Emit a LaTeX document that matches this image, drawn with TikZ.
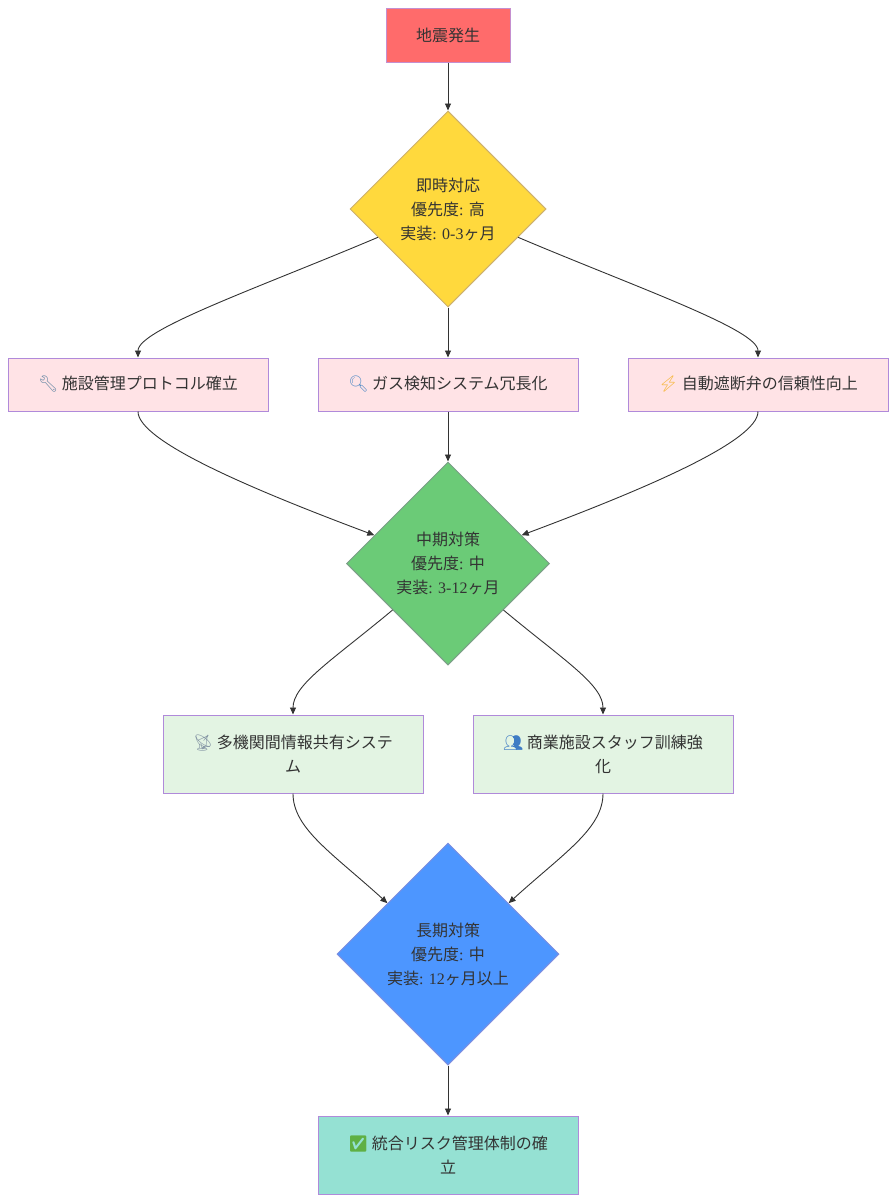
\documentclass[tikz,border=0pt]{standalone}
\usepackage{fontspec}
\setmainfont{Liberation Serif}
\newfontfamily\jp{Noto Sans CJK JP}
\newfontfamily\emo{Noto Emoji}
\usepackage{xcolor}
\usepackage{tikz}
\usetikzlibrary{arrows.meta}
\usetikzlibrary{shapes.geometric}
\definecolor{txt}{HTML}{333333}
\definecolor{edgec}{HTML}{333333}
\definecolor{redf}{HTML}{FF6B6B}
\definecolor{reds}{HTML}{C48FCF}
\definecolor{yelf}{HTML}{FFD93D}
\definecolor{yels}{HTML}{CDB06E}
\definecolor{pinkf}{HTML}{FFE3E6}
\definecolor{lavs}{HTML}{B08ADA}
\definecolor{grnf}{HTML}{6BCB77}
\definecolor{grns}{HTML}{7C9E88}
\definecolor{mintf}{HTML}{E3F4E3}
\definecolor{bluf}{HTML}{4D96FF}
\definecolor{blus}{HTML}{7E8EE0}
\definecolor{tealf}{HTML}{95E1D3}
\definecolor{wrenchc}{HTML}{6B8BA6}
\definecolor{lensc}{HTML}{5A8FC7}
\definecolor{boltc}{HTML}{F6B430}
\definecolor{dishc}{HTML}{8A9BA8}
\definecolor{peoplec}{HTML}{3E7CC4}
\definecolor{checkc}{HTML}{5FB044}
\newcommand\emj[2]{{\emo\color{#1}#2}}
\tikzstyle{box}=[rectangle,draw,line width=1pt,minimum width=260pt,minimum height=53pt,inner sep=0pt,align=center,text=txt,font=\jp\fontsize{16pt}{24pt}\selectfont]
\tikzstyle{tallbox}=[box,minimum height=78pt]
\tikzstyle{dia}=[diamond,draw,line width=1pt,inner sep=0pt,align=center,text=txt,font=\fontsize{16pt}{24pt}\selectfont]
\tikzstyle{ed}=[line width=.9pt,draw=edgec,-{Triangle[length=7pt,width=6pt]}]

\begin{document}
\begin{tikzpicture}[x=1pt,y=1pt]
	\useasboundingbox (0,0) rectangle (896,-1202);
	\node[box,fill=redf,draw=reds,minimum width=124pt,minimum height=54pt] (start) at (448,-35) {地震発生};
	\node[dia,fill=yelf,draw=yels,minimum width=196pt,minimum height=196pt] (immed) at (448,-209) {{\jp 即時対応}\\{\jp 優先度}: {\jp 高}\\{\jp 実装}: 0-3{\jp ヶ月}};
	\node[box,fill=pinkf,draw=lavs] (prot) at (138,-384.5) {\emj{wrenchc}{🔧} 施設管理プロトコル確立};
	\node[box,fill=pinkf,draw=lavs] (gas) at (448,-384.5) {\emj{lensc}{🔍} ガス検知システム冗長化};
	\node[box,fill=pinkf,draw=lavs] (valve) at (758,-384.5) {\emj{boltc}{⚡} 自動遮断弁の信頼性向上};
	\node[dia,fill=grnf,draw=grns,minimum width=203pt,minimum height=203pt] (mid) at (448,-563.5) {{\jp 中期対策}\\{\jp 優先度}: {\jp 中}\\{\jp 実装}: 3-12{\jp ヶ月}};
	\node[tallbox,fill=mintf,draw=lavs] (share) at (293,-754) {\emj{dishc}{📡} 多機関間情報共有システ\\ム};
	\node[tallbox,fill=mintf,draw=lavs] (train) at (603,-754) {\emj{peoplec}{👥} 商業施設スタッフ訓練強\\化};
	\node[dia,fill=bluf,draw=blus,minimum width=222pt,minimum height=222pt] (long) at (448,-954) {{\jp 長期対策}\\{\jp 優先度}: {\jp 中}\\{\jp 実装}: 12{\jp ヶ月以上}};
	\node[tallbox,fill=tealf,draw=lavs] (goal) at (448,-1155) {\emj{checkc}{✅} 統合リスク管理体制の確\\立};
	\draw[ed] (start) -- (immed);
	\draw[ed] (immed.202) .. controls +(-118,-50) and +(0,28) .. (prot.north);
	\draw[ed] (immed) -- (gas);
	\draw[ed] (immed.-22) .. controls +(118,-50) and +(0,28) .. (valve.north);
	\draw[ed] (prot.south) .. controls +(0,-30) and +(-120,45) .. (mid.159);
	\draw[ed] (gas) -- (mid);
	\draw[ed] (valve.south) .. controls +(0,-30) and +(120,45) .. (mid.21);
	\draw[ed] (mid.220) .. controls +(-60,-50) and +(0,30) .. (share.north);
	\draw[ed] (mid.-40) .. controls +(60,-50) and +(0,30) .. (train.north);
	\draw[ed] (share.south) .. controls +(0,-35) and +(-55,50) .. (long.140);
	\draw[ed] (train.south) .. controls +(0,-35) and +(55,50) .. (long.40);
	\draw[ed] (long) -- (goal);
\end{tikzpicture}
\end{document}
